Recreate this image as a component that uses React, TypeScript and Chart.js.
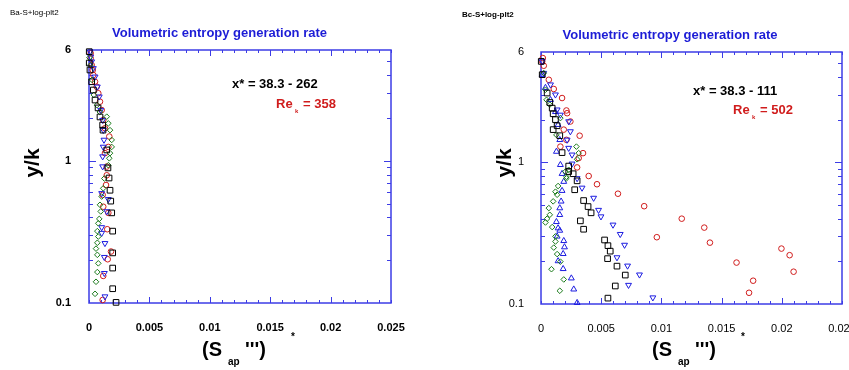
import React, { useEffect, useRef } from 'react';
import { Chart, registerables } from 'chart.js';

Chart.register(...registerables);

type Pt = [number, number];

// ---------- tick values / labels ----------
const X_TICKS = [0, 0.005, 0.01, 0.015, 0.02, 0.025];
const X_TICK_LABELS = ['0', '0.005', '0.01', '0.015', '0.02', '0.025'];
const Y_TICKS = [0.1, 1, 6];
const Y_TICK_LABELS = ['0.1', '1', '6'];
const X_MARKS = [0, 0.001, 0.002, 0.003, 0.004, 0.005, 0.006, 0.007, 0.008, 0.009, 0.01, 0.011, 0.012, 0.013, 0.014, 0.015, 0.016, 0.017, 0.018, 0.019, 0.02, 0.021, 0.022, 0.023, 0.024, 0.025];
const X_MAJOR_MARKS = [0.005, 0.01, 0.015, 0.02];
const Y_MAJOR_MARKS = [1];
const Y_MINOR_MARKS = [0.2, 0.3, 0.4, 0.5, 0.6, 0.7, 0.8, 0.9, 2, 3, 4, 5];

// ---------- left panel (Ba) ----------
const A_SQUARES: Pt[] = [
  [0.00002, 5.84], [0.00002, 4.86], [0.00008, 4.34], [0.00022, 3.59], [0.00036, 3.14], [0.0005, 2.67],
  [0.00075, 2.35], [0.00091, 2.03], [0.00113, 1.78], [0.00116, 1.64], [0.00147, 1.19], [0.00157, 0.89],
  [0.00166, 0.756], [0.00174, 0.62], [0.0018, 0.52], [0.00188, 0.43], [0.00196, 0.32], [0.00196, 0.225],
  [0.00196, 0.176], [0.00196, 0.126], [0.00224, 0.101],
];
const A_CIRCLES: Pt[] = [
  [0.00014, 5.69], [0.00014, 5.24], [0.00022, 4.7], [0.00031, 4.34], [0.00036, 4.0], [0.0005, 3.59],
  [0.00064, 3.31], [0.00077, 2.98], [0.00091, 2.6], [0.00105, 2.27], [0.00118, 1.93], [0.00132, 1.69],
  [0.00168, 1.48], [0.0016, 1.25], [0.00132, 1.13], [0.00147, 0.91], [0.00147, 0.79], [0.00141, 0.675],
  [0.00113, 0.575], [0.00118, 0.475], [0.0016, 0.43], [0.00151, 0.33], [0.00182, 0.23], [0.00155, 0.203],
  [0.00118, 0.155], [0.00113, 0.105],
];
const A_TRI_DOWN: Pt[] = [
  [0.00008, 5.84], [0.00014, 5.38], [0.00022, 4.97], [0.00036, 4.46], [0.0005, 3.89], [0.00069, 3.31],
  [0.00085, 2.82], [0.00097, 2.27], [0.00113, 1.93], [0.00118, 1.64], [0.00124, 1.4], [0.00118, 1.25],
  [0.00113, 1.07], [0.00113, 0.91], [0.00105, 0.59], [0.0016, 0.536], [0.00147, 0.44], [0.00105, 0.34],
  [0.00105, 0.31], [0.00132, 0.263], [0.00127, 0.21], [0.00127, 0.162], [0.00132, 0.111],
];
const A_DIAMONDS: Pt[] = [
  [0.00004, 5.3], [0.00012, 4.7], [0.00025, 3.7], [0.0004, 2.9], [0.00066, 2.46], [0.0009, 2.2],
  [0.00147, 2.04], [0.0016, 1.83], [0.00174, 1.64], [0.00188, 1.4], [0.00188, 1.25], [0.00174, 1.13],
  [0.00168, 1.04], [0.0016, 0.93], [0.00127, 0.75], [0.00118, 0.64], [0.00105, 0.56], [0.00091, 0.49],
  [0.00097, 0.44], [0.00085, 0.39], [0.00077, 0.363], [0.00069, 0.32], [0.00077, 0.293], [0.00069, 0.265],
  [0.00058, 0.241], [0.00069, 0.218], [0.00077, 0.19], [0.00069, 0.165], [0.00058, 0.141], [0.0005, 0.116],
];

// ---------- right panel (Bc) ----------
const B_SQUARES: Pt[] = [
  [0.00002, 5.15], [0.0001, 4.15], [0.00051, 3.08], [0.00073, 2.64], [0.00093, 2.41], [0.00101, 2.2],
  [0.0012, 2.0], [0.00134, 1.81], [0.00101, 1.7], [0.00156, 1.54], [0.00175, 1.17], [0.0023, 0.94],
  [0.0023, 0.86], [0.00267, 0.83], [0.003, 0.74], [0.0028, 0.64], [0.00354, 0.537], [0.00391, 0.487],
  [0.00416, 0.44], [0.00327, 0.386], [0.00354, 0.337], [0.00528, 0.283], [0.00556, 0.258], [0.00575, 0.236],
  [0.00553, 0.209], [0.00631, 0.185], [0.007, 0.16], [0.00617, 0.134], [0.00556, 0.11],
];
const B_CIRCLES: Pt[] = [
  [0.00015, 5.44], [0.0001, 5.15], [0.00023, 4.8], [0.00065, 3.82], [0.00106, 3.29], [0.00175, 2.84],
  [0.00211, 2.32], [0.00217, 2.22], [0.00244, 1.94], [0.00189, 1.7], [0.00321, 1.54], [0.00211, 1.44],
  [0.00161, 1.29], [0.00349, 1.16], [0.00313, 1.07], [0.003, 0.92], [0.00396, 0.8], [0.00465, 0.7],
  [0.00639, 0.6], [0.00857, 0.49], [0.01169, 0.4], [0.01356, 0.346], [0.00962, 0.296], [0.01403, 0.271],
  [0.01624, 0.196], [0.01762, 0.146], [0.01728, 0.12], [0.01997, 0.246], [0.02065, 0.221], [0.02098, 0.169],
];
const B_TRI_DOWN: Pt[] = [
  [0.0001, 5.15], [0.00023, 4.26], [0.00079, 3.53], [0.0012, 3.0], [0.00134, 2.35], [0.00161, 2.16],
  [0.0023, 1.94], [0.00244, 1.65], [0.00217, 1.44], [0.0023, 1.26], [0.00258, 1.13], [0.00258, 0.976],
  [0.003, 0.77], [0.00341, 0.66], [0.00437, 0.56], [0.00478, 0.46], [0.00498, 0.414], [0.00598, 0.362],
  [0.00658, 0.311], [0.00694, 0.261], [0.00631, 0.213], [0.00719, 0.186], [0.00818, 0.161], [0.00727, 0.136],
  [0.00929, 0.111],
];
const B_TRI_UP: Pt[] = [
  [0.0001, 4.15], [0.00037, 3.36], [0.00079, 2.76], [0.0012, 2.27], [0.00142, 1.84], [0.00156, 1.44],
  [0.00128, 1.19], [0.00161, 0.96], [0.00175, 0.83], [0.00189, 0.73], [0.00175, 0.63], [0.00167, 0.53],
  [0.00156, 0.475], [0.00156, 0.426], [0.00128, 0.38], [0.00142, 0.343], [0.00156, 0.33], [0.00134, 0.3],
  [0.00189, 0.279], [0.00195, 0.252], [0.00184, 0.226], [0.00142, 0.201], [0.00184, 0.177], [0.00252, 0.152],
  [0.00272, 0.127], [0.003, 0.102],
];
const B_DIAMONDS: Pt[] = [
  [0.00023, 4.26], [0.00037, 3.25], [0.00046, 2.76], [0.00073, 2.55], [0.00161, 2.05], [0.00128, 1.56],
  [0.00294, 1.29], [0.00313, 1.16], [0.003, 1.05], [0.00203, 0.86], [0.00211, 0.79], [0.0023, 0.885],
  [0.00211, 0.77], [0.00142, 0.68], [0.0012, 0.62], [0.00134, 0.59], [0.00101, 0.53], [0.00065, 0.475],
  [0.00073, 0.426], [0.00051, 0.4], [0.00037, 0.376], [0.00093, 0.349], [0.0012, 0.3], [0.0012, 0.276],
  [0.00106, 0.25], [0.00134, 0.225], [0.00161, 0.199], [0.00087, 0.176], [0.00189, 0.149], [0.00156, 0.124],
];

// ---------- styles ----------
const FONT = '"Liberation Sans", Arial, Helvetica, sans-serif';
const AXIS_COLOR = '#3c3ce6';
const TITLE_COLOR = '#1c1cd6';
const RED = '#d01c1c';
const BLUE = '#1c1ce0';
const GREEN = '#1a7a1a';
const BLACK = '#000000';

type PanelCfg = {
  canvasW: number;
  padTop: number;
  padRight: number;
  yAxisW: number;
  xAxisH: number;
  bold: boolean;
  yLabelPad: number;
  corner: { text: string; x: number; y: number; bold: boolean };
  title: { x: number; y: number };
  xstar: { text: string; x: number; y: number };
  re: { x: number; y: number; value: string };
  ytitle: { x: number; y: number };
  xtitle: { x: number; y: number };
  series: { data: Pt[]; color: string; style: string; radius: number; rotation?: number }[];
};

const LEFT: PanelCfg = {
  canvasW: 425,
  padTop: 50,
  padRight: 34,
  yAxisW: 89,
  xAxisH: 67,
  bold: true,
  yLabelPad: 10,
  corner: { text: 'Ba-S+log-plt2', x: 10, y: 13, bold: false },
  title: { x: 219.5, y: 33 },
  xstar: { text: 'x* = 38.3 - 262', x: 232, y: 88 },
  re: { x: 276, y: 108, value: '= 358' },
  ytitle: { x: 33, y: 163 },
  xtitle: { x: 202, y: 356 },
  series: [
    { data: A_SQUARES, color: BLACK, style: 'rect', radius: 4 },
    { data: A_DIAMONDS, color: GREEN, style: 'rectRot', radius: 2.8 },
    { data: A_TRI_DOWN, color: BLUE, style: 'triangle', radius: 3.4, rotation: 180 },
    { data: A_CIRCLES, color: RED, style: 'circle', radius: 2.8 },
  ],
};

const RIGHT: PanelCfg = {
  canvasW: 424,
  padTop: 52,
  padRight: 7,
  yAxisW: 116,
  xAxisH: 66,
  bold: false,
  yLabelPad: 9,
  corner: { text: 'Bc-S+log-plt2', x: 37, y: 15, bold: true },
  title: { x: 245, y: 35 },
  xstar: { text: 'x* = 38.3 - 111', x: 268, y: 95 },
  re: { x: 308, y: 114, value: '= 502' },
  ytitle: { x: 80, y: 163 },
  xtitle: { x: 227, y: 356 },
  series: [
    { data: B_SQUARES, color: BLACK, style: 'rect', radius: 4 },
    { data: B_DIAMONDS, color: GREEN, style: 'rectRot', radius: 2.8 },
    { data: B_TRI_UP, color: BLUE, style: 'triangle', radius: 3.4 },
    { data: B_TRI_DOWN, color: BLUE, style: 'triangle', radius: 3.4, rotation: 180 },
    { data: B_CIRCLES, color: RED, style: 'circle', radius: 2.8 },
  ],
};

function near(list: number[], v: number) {
  return list.some((m) => Math.abs(m - v) < 1e-9);
}

function makeDecor(cfg: PanelCfg) {
  return {
    id: 'decor',
    beforeDatasetsDraw(chart: any) {
      const { ctx, chartArea: a, scales } = chart;
      const x = scales.x;
      const y = scales.y;
      ctx.save();
      ctx.strokeStyle = AXIS_COLOR;
      ctx.lineWidth = 1.5;
      ctx.strokeRect(a.left, a.top, a.right - a.left, a.bottom - a.top);
      ctx.lineWidth = 1;
      ctx.beginPath();
      X_MARKS.forEach((v) => {
        const px = Math.round(x.getPixelForValue(v)) + 0.5;
        const len = near(X_MAJOR_MARKS, v) ? 6 : 3;
        ctx.moveTo(px, a.bottom);
        ctx.lineTo(px, a.bottom - len);
        ctx.moveTo(px, a.top);
        ctx.lineTo(px, a.top + len);
      });
      const yMarks = [...Y_MAJOR_MARKS, ...Y_MINOR_MARKS];
      yMarks.forEach((v) => {
        const py = Math.round(y.getPixelForValue(v)) + 0.5;
        const len = near(Y_MAJOR_MARKS, v) ? 7 : 4;
        ctx.moveTo(a.left, py);
        ctx.lineTo(a.left + len, py);
        ctx.moveTo(a.right, py);
        ctx.lineTo(a.right - len, py);
      });
      ctx.stroke();
      ctx.restore();
    },
    afterDraw(chart: any) {
      const ctx = chart.ctx as CanvasRenderingContext2D;
      ctx.save();
      // corner label
      ctx.fillStyle = '#000';
      ctx.textBaseline = 'middle';
      ctx.textAlign = 'left';
      ctx.font = `${cfg.corner.bold ? 'bold ' : ''}8px ${FONT}`;
      ctx.fillText(cfg.corner.text, cfg.corner.x, cfg.corner.y);
      // title
      ctx.fillStyle = TITLE_COLOR;
      ctx.textAlign = 'center';
      ctx.font = `bold 13px ${FONT}`;
      ctx.fillText('Volumetric entropy generation rate', cfg.title.x, cfg.title.y);
      // annotations
      ctx.textAlign = 'left';
      ctx.textBaseline = 'alphabetic';
      ctx.fillStyle = '#000';
      ctx.font = `bold 13px ${FONT}`;
      ctx.fillText(cfg.xstar.text, cfg.xstar.x, cfg.xstar.y);
      ctx.fillStyle = RED;
      ctx.fillText('Re', cfg.re.x, cfg.re.y);
      ctx.fillText(cfg.re.value, cfg.re.x + 27, cfg.re.y);
      ctx.font = `bold 6px ${FONT}`;
      ctx.fillText('k', cfg.re.x + 19, cfg.re.y + 5);
      // y title
      ctx.fillStyle = '#000';
      ctx.save();
      ctx.translate(cfg.ytitle.x, cfg.ytitle.y);
      ctx.rotate(-Math.PI / 2);
      ctx.textAlign = 'center';
      ctx.textBaseline = 'middle';
      ctx.font = `bold 21px ${FONT}`;
      ctx.fillText('y/k', 0, 0);
      ctx.restore();
      // x title
      const xt = cfg.xtitle;
      ctx.textAlign = 'left';
      ctx.textBaseline = 'alphabetic';
      ctx.font = `bold 20px ${FONT}`;
      ctx.fillText('(S', xt.x, xt.y);
      ctx.fillText("''')", xt.x + 43, xt.y);
      ctx.font = `bold 10px ${FONT}`;
      ctx.fillText('ap', xt.x + 26, xt.y + 9);
      ctx.fillText('*', xt.x + 89, xt.y - 16);
      ctx.restore();
    },
  };
}

function makeConfig(cfg: PanelCfg): any {
  const weight = cfg.bold ? 'bold' : 'normal';
  const noPad = (s: any) => {
    s.paddingLeft = 0;
    s.paddingRight = 0;
    s.paddingTop = 0;
    s.paddingBottom = 0;
  };
  return {
    type: 'scatter',
    data: {
      datasets: cfg.series.map((s) => ({
        data: s.data.map(([x, y]) => ({ x, y })),
        pointStyle: s.style,
        pointRadius: s.radius,
        pointRotation: s.rotation || 0,
        borderColor: s.color,
        backgroundColor: 'rgba(0,0,0,0)',
        pointBorderWidth: 1,
        borderWidth: 1,
        showLine: false,
        clip: false,
      })),
    },
    options: {
      responsive: false,
      animation: false,
      devicePixelRatio: 1,
      events: [],
      layout: { autoPadding: false, padding: { left: 0, top: cfg.padTop, right: cfg.padRight, bottom: 0 } },
      plugins: { legend: { display: false }, tooltip: { enabled: false }, title: { display: false } },
      scales: {
        x: {
          type: 'linear',
          min: 0,
          max: 0.025,
          grid: { display: false },
          border: { display: false },
          afterBuildTicks: (s: any) => {
            s.ticks = X_TICKS.map((v) => ({ value: v }));
          },
          afterFit: (s: any) => {
            s.height = cfg.xAxisH;
            noPad(s);
          },
          ticks: {
            autoSkip: false,
            maxRotation: 0,
            minRotation: 0,
            padding: 10,
            color: '#000',
            font: { family: FONT, size: 11, weight },
            callback: (_v: any, i: number) => X_TICK_LABELS[i],
          },
        },
        y: {
          type: 'logarithmic',
          min: 0.1,
          max: 6,
          grid: { display: false },
          border: { display: false },
          afterBuildTicks: (s: any) => {
            s.ticks = Y_TICKS.map((v) => ({ value: v }));
          },
          afterFit: (s: any) => {
            s.width = cfg.yAxisW;
            noPad(s);
          },
          ticks: {
            autoSkip: false,
            padding: cfg.yLabelPad,
            color: '#000',
            font: { family: FONT, size: 11, weight },
            callback: (_v: any, i: number) => Y_TICK_LABELS[i],
          },
        },
      },
    },
    plugins: [makeDecor(cfg)],
  };
}

function Panel({ cfg, left }: { cfg: PanelCfg; left: number }) {
  const ref = useRef<HTMLCanvasElement>(null);
  useEffect(() => {
    const chart = new Chart(ref.current as HTMLCanvasElement, makeConfig(cfg));
    return () => chart.destroy();
  }, [cfg]);
  return (
    <canvas
      ref={ref}
      width={cfg.canvasW}
      height={370}
      style={{ position: 'absolute', left, top: 0, width: cfg.canvasW, height: 370, display: 'block' }}
    />
  );
}

export default function App() {
  useEffect(() => {
    document.body.style.margin = '0';
  }, []);
  return (
    <div style={{ position: 'fixed', left: 0, top: 0, width: 849, height: 370, background: '#fff', overflow: 'hidden' }}>
      <Panel cfg={LEFT} left={0} />
      <Panel cfg={RIGHT} left={425} />
    </div>
  );
}
